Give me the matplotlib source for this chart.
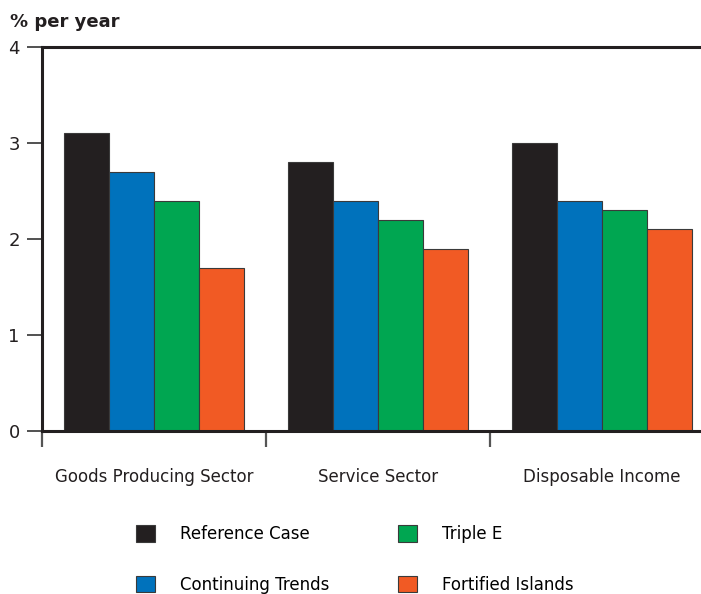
import numpy as np
import matplotlib
matplotlib.use("Agg")
import matplotlib.pyplot as plt
from matplotlib.patches import Patch

# growth rates by sector, one list per scenario
sectors = ["Goods Producing Sector", "Service Sector", "Disposable Income"]
reference_case = [3.1, 2.8, 3.0]
continuing_trends = [2.7, 2.4, 2.4]
triple_e = [2.4, 2.2, 2.3]
fortified_islands = [1.7, 1.9, 2.1]

scenarios = ["Reference Case", "Continuing Trends", "Triple E", "Fortified Islands"]
colors = ["#231f20", "#0072bc", "#00a651", "#f15a24"]
series = [reference_case, continuing_trends, triple_e, fortified_islands]

plt.rcParams['font.family'] = ['DejaVu Sans']
fig = plt.figure(figsize=(7.01, 5.94), dpi=100)
ax = fig.add_axes([42/701, 1-431/594, 1-42/701, 384/594])

x = np.arange(len(sectors))
w = 0.2
for i, (vals, col) in enumerate(zip(series, colors)):
   ax.bar(x + (i-1.5)*w, vals, w, color=col, edgecolor="#3a3a3a", linewidth=0.8, zorder=2)

ax.set_xlim(-0.5, (701-42)/224 - 0.5)
ax.set_ylim(0, 4)
ax.set_yticks([0, 1, 2, 3, 4])
ax.tick_params(axis='y', direction='out', length=11, width=1.2, color="#333333",
               labelsize=13, pad=5, labelcolor="#231f20")

# group separators as major ticks, names on minor ticks
ax.set_xticks([-0.5, 0.5, 1.5])
ax.set_xticklabels([])
ax.tick_params(axis='x', which='major', direction='out', length=11.5, width=1.6, color="#555555")
ax.set_xticks(x, minor=True)
ax.set_xticklabels(sectors, minor=True)
ax.tick_params(axis='x', which='minor', length=0, pad=27, labelsize=12, labelcolor="#231f20")

ax.spines['right'].set_visible(False)
for s in ['top', 'left', 'bottom']:
   ax.spines[s].set_linewidth(2.2)
   ax.spines[s].set_color("#231f20")

fig.text(10/701, 1-22/594, "% per year", fontsize=13, fontweight='bold',
         color="#231f20", va='center', ha='left')

handles = [Patch(facecolor=c, edgecolor="#3a3a3a", linewidth=0.8) for c in colors]
fig.legend(handles, scenarios, ncol=2, frameon=False, loc='upper left',
           bbox_to_anchor=(136/701, 1-525/594), borderpad=0, borderaxespad=0,
           handlelength=1.15, handleheight=1.15, handletextpad=1.5,
           labelspacing=1.95, columnspacing=4.1, fontsize=12)

fig.savefig("out.png", dpi=100)
